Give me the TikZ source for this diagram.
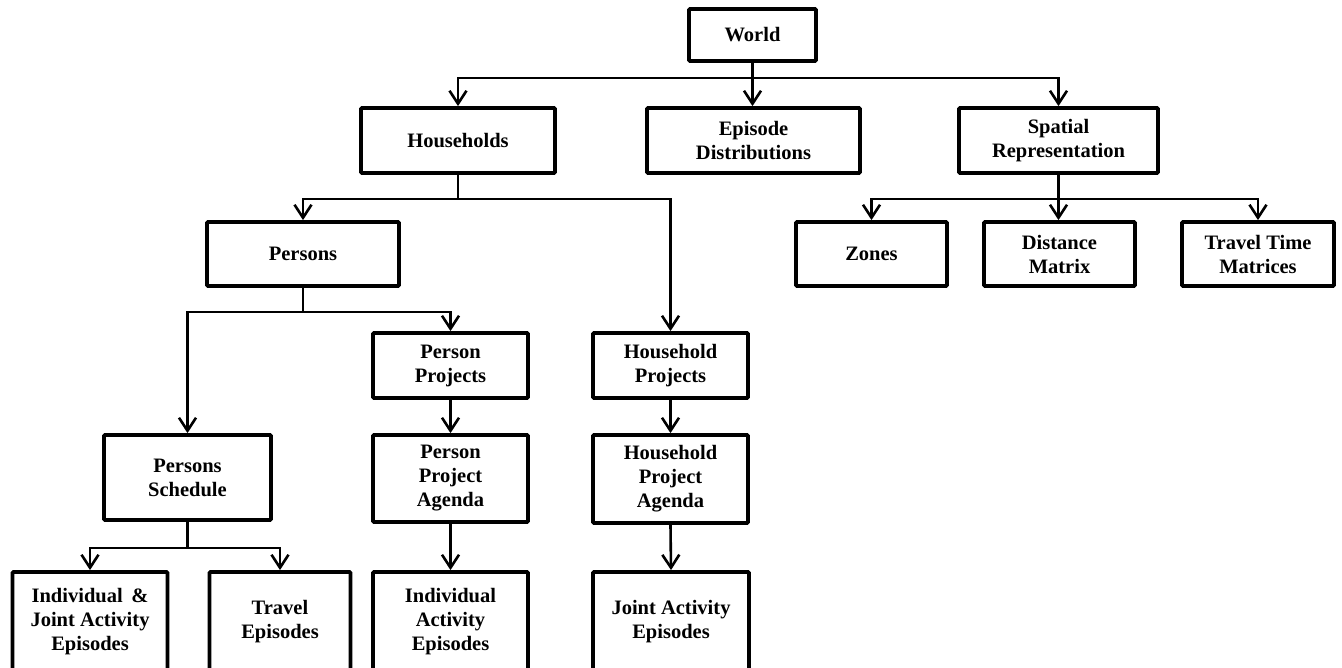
\documentclass[tikz,border=0pt]{standalone}
\usepackage{fontspec}
\setmainfont{Liberation Serif}
\usetikzlibrary{arrows.meta}
\begin{document}
\begin{tikzpicture}[x=1pt,y=-1pt,
  box/.style={draw, line width=3.8pt, rounded corners=1pt, align=center,
    inner sep=0pt, font=\bfseries\fontsize{20.5}{24}\selectfont},
  arr/.style={line width=2.6pt, -{Straight Barb[length=13pt,width=17pt,line width=2.6pt]}}]
\useasboundingbox (0,0) rectangle (1342,668);
\clip (0,0) rectangle (1342,668);
% level 0
\node[box, minimum width=127pt, minimum height=52pt] (world) at (752.5,35) {World};
% level 1
\node[box, minimum width=194pt, minimum height=65pt] (hh) at (458,140.5) {Households};
\node[box, minimum width=213pt, minimum height=65pt] (ed) at (753.5,140.5) {Episode\\Distributions};
\node[box, minimum width=199pt, minimum height=65pt] (sr) at (1058.5,140.5) {Spatial\\Representation};
% level 2
\node[box, minimum width=192pt, minimum height=64pt] (persons) at (303,254) {Persons};
\node[box, minimum width=151pt, minimum height=64pt] (zones) at (871.5,254) {Zones};
\node[box, minimum width=151pt, minimum height=64pt] (dm) at (1059.5,254) {Distance\\Matrix};
\node[box, minimum width=152pt, minimum height=64pt] (tt) at (1258,254) {Travel Time\\Matrices};
% level 3
\node[box, minimum width=155pt, minimum height=65pt] (pp) at (450.5,365.5) {Person\\Projects};
\node[box, minimum width=155pt, minimum height=65pt] (hp) at (670.5,365.5) {Household\\Projects};
% level 4
\node[box, minimum width=167pt, minimum height=85pt] (ps) at (187.5,477.5) {Persons\\Schedule};
\node[box, minimum width=155pt, minimum height=87pt] (ppa) at (450.5,478.5) {Person\\Project\\Agenda};
\node[box, minimum width=155pt, minimum height=88pt] (hpa) at (670.5,479) {Household\\Project\\Agenda};
% level 5
\node[box, minimum width=155pt, minimum height=100pt] (ije) at (90,622) {Individual \,\&\\Joint Activity\\Episodes};
\node[box, minimum width=141pt, minimum height=100pt] (te) at (280,622) {Travel\\Episodes};
\node[box, minimum width=155pt, minimum height=100pt] (iae) at (450.5,622) {Individual\\Activity\\Episodes};
\node[box, minimum width=156pt, minimum height=100pt] (jae) at (671,622) {Joint Activity\\Episodes};
% connectors
\draw[arr] (world.south) -- (world.south |- ed.north);
\draw[arr] (world.south) -- ++(0,15) -| (hh.north);
\draw[arr] (world.south) -- ++(0,15) -| (sr.north);
\draw[arr] (hh.south) -- ++(0,24) -| (persons.north);
\draw[arr] (hh.south) -- ++(0,24) -| (hp.north);
\draw[arr] (sr.south) -- ++(0,24) -| (zones.north);
\draw[arr] (sr.south) -- (sr.south |- dm.north);
\draw[arr] (sr.south) -- ++(0,24) -| (tt.north);
\draw[arr] (persons.south) -- ++(0,24) -| (ps.north);
\draw[arr] (persons.south) -- ++(0,24) -| (pp.north);
\draw[arr] (pp.south) -- (ppa.north);
\draw[arr] (ppa.south) -- (iae.north);
\draw[arr] (hp.south) -- (hpa.north);
\draw[arr] (hpa.south) -- (jae.north);
\draw[arr] (ps.south) -- ++(0,26) -| (ije.north);
\draw[arr] (ps.south) -- ++(0,26) -| (te.north);
\end{tikzpicture}
\end{document}
